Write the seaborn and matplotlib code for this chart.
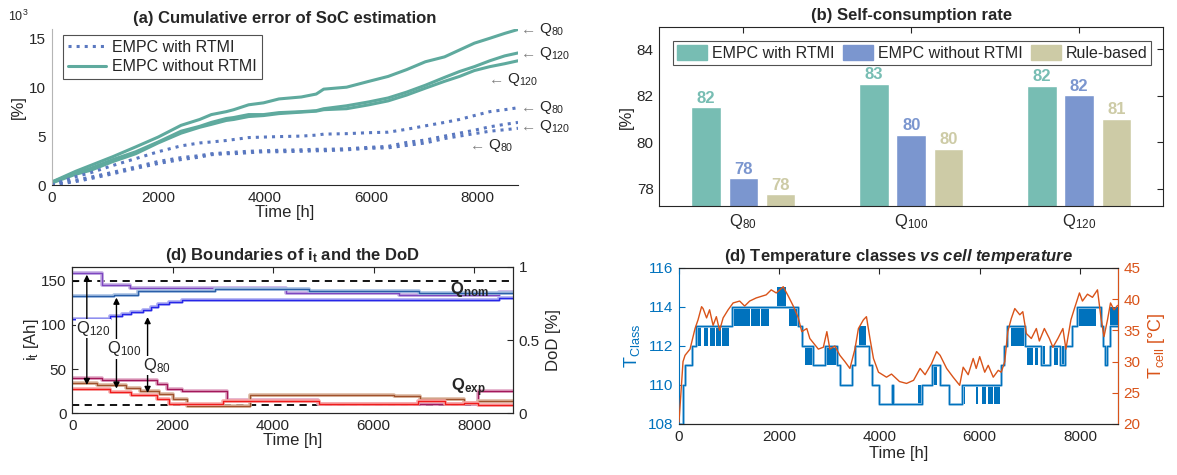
import numpy as np
import pandas as pd
import matplotlib.pyplot as plt
import seaborn as sns
from matplotlib.patches import Patch
from matplotlib.lines import Line2D

# ---------------- data ----------------
# (a) cumulative SoC error [x1000 %]
t_err = [0, 450, 730, 1150, 1580, 2000, 2430, 2780, 3000, 3280, 3420, 3700, 3980, 4270,
         4690, 4970, 5110, 5540, 5960, 6320, 6670, 7020, 7380, 7660, 7940, 8230, 8510, 8760]
wo_q80 = [0.3, 1.4, 2.0, 2.9, 3.9, 4.9, 6.1, 6.7, 7.2, 7.5, 7.7, 8.2, 8.4, 8.8,
          9.0, 9.3, 9.8, 10.0, 10.6, 11.1, 11.8, 12.6, 13.1, 13.8, 14.5, 15.0, 15.5, 15.9]
wo_q120a = [0.3, 1.2, 1.7, 2.6, 3.4, 4.4, 5.5, 6.0, 6.4, 6.8, 6.9, 7.2, 7.2, 7.4,
            7.5, 7.6, 7.8, 8.1, 8.5, 8.9, 9.5, 10.2, 11.0, 11.6, 12.1, 12.7, 13.2, 13.5]
wo_q120b = [0.2, 1.1, 1.5, 2.4, 3.2, 4.3, 5.3, 5.9, 6.2, 6.6, 6.7, 7.0, 7.1, 7.3,
            7.45, 7.55, 7.7, 7.8, 8.2, 8.6, 9.2, 9.9, 10.6, 11.1, 11.7, 12.1, 12.4, 12.7]
w_q80a = [0, 0.85, 1.25, 2.0, 2.7, 3.4, 4.0, 4.3, 4.4, 4.55, 4.65, 4.85, 4.9, 4.95,
          5.0, 5.1, 5.2, 5.25, 5.35, 5.4, 5.7, 6.05, 6.4, 6.7, 7.1, 7.5, 7.7, 7.9]
w_q120 = [0, 0.5, 0.8, 1.3, 1.85, 2.4, 2.8, 3.0, 3.2, 3.3, 3.35, 3.45, 3.5, 3.55,
          3.6, 3.65, 3.65, 3.7, 3.85, 3.95, 4.35, 4.6, 5.0, 5.3, 5.6, 5.95, 6.2, 6.4]
w_q80b = [0, 0.35, 0.65, 1.15, 1.7, 2.2, 2.6, 2.85, 3.1, 3.2, 3.2, 3.3, 3.4, 3.4,
          3.45, 3.5, 3.5, 3.6, 3.75, 3.8, 4.05, 4.3, 4.75, 5.0, 5.25, 5.5, 5.65, 5.8]

# (b) self-consumption rate [%]
cases = ["Q$_{80}$", "Q$_{100}$", "Q$_{120}$"]
strategies = ["EMPC with RTMI", "EMPC without RTMI", "Rule-based"]
scr_with = [81.5, 82.52, 82.44]
scr_without = [78.45, 80.32, 82.02]
scr_rule = [77.76, 79.72, 81.02]

# (d) boundaries of i_t [Ah]
purple_t = [0, 590, 1150, 4250, 6500, 8490, 8784]
purple_v = [159, 145, 141.5, 136.5, 134.5, 137, 137]
dblue_t = [0, 830, 1300, 2850, 4720, 6900, 8784]
dblue_v = [133, 134.5, 138, 140.5, 138.5, 136.5, 136.5]
blue_t = [0, 750, 1000, 1175, 1400, 1570, 1700, 1930, 2190, 8490, 8784]
blue_v = [106.5, 110, 112.5, 115, 117.5, 120.5, 124, 126.5, 128.5, 130.5, 130.5]
crim_t = [0, 590, 1690, 1890, 2190, 3090, 4900, 8090, 8784]
crim_v = [40.5, 37.5, 33, 28, 25, 15, 10.5, 25.5, 25.5]
brown_t = [0, 490, 1080, 1340, 1730, 2000, 2290, 3540, 6400, 6920, 7800, 8090, 8784]
brown_v = [34, 31.5, 28.5, 25, 21.5, 16, 8.5, 21, 19.6, 16, 12.2, 13.7, 13.7]
red_t = [0, 750, 1175, 1680, 1930, 3000, 4910, 6880, 7420, 7800, 8090, 8784]
red_v = [27, 24, 20.5, 16, 11, 14, 10.4, 14, 10.4, 11.8, 8.9, 8.9]
q_nom_line = 150
q_exp_line = 9

# (e) temperature classes and cell temperature
tclass_t = [0, 70, 120, 250, 330, 1050, 2380, 2450, 2510, 2680, 2910, 3150, 3210, 3450, 3520,
            3790, 3850, 3990, 4240, 4270, 4850, 5050, 5210, 5380, 5640, 6420, 6480, 6540, 6600,
            6900, 7230, 7400, 7600, 7700, 7850, 7950, 8420, 8470, 8490, 8540, 8600, 8760]
tclass_v = [108, 110, 111, 112, 113, 114, 113, 112, 112, 111, 112, 111, 110, 111, 112,
            111, 110, 109, 110, 109, 110, 111, 110, 109, 110, 111, 112, 113, 113,
            112, 111, 112, 111, 112, 113, 114, 113, 112, 111, 112, 113, 113]
# periods where the class toggles quickly between two levels
chat_t0 = [330, 500, 620, 740, 860, 1060, 1440, 1630, 1950, 2190, 2520, 2920, 3600, 4760,
           5060, 5640, 5920, 6050, 6170, 6290, 6620, 6940, 7110, 7230, 7490, 7640, 7960, 8600]
chat_t1 = [440, 570, 710, 830, 990, 1420, 1610, 1800, 2130, 2390, 2690, 3160, 3740, 4850,
           5140, 5710, 5970, 6130, 6270, 6410, 6890, 7060, 7170, 7310, 7570, 7710, 8320, 8760]
chat_lo = [112, 112, 112, 112, 112, 113, 113, 113, 114, 113, 111, 111, 112, 109,
           110, 109, 109, 109, 109, 109, 112, 111, 111, 111, 111, 111, 113, 113]

tcell_t = [0, 80, 120, 220, 320, 380, 450, 480, 550, 610, 680, 745, 810, 880, 980, 1080, 1210,
           1310, 1410, 1540, 1740, 1840, 1940, 2080, 2180, 2280, 2380, 2450, 2550, 2610, 2680,
           2780, 2880, 2950, 3010, 3110, 3210, 3310, 3410, 3510, 3580, 3680, 3740, 3810, 3880,
           3980, 4140, 4240, 4400, 4540, 4680, 4810, 4910, 5040, 5140, 5210, 5340, 5470, 5600,
           5670, 5770, 5870, 5930, 6000, 6100, 6170, 6270, 6370, 6430, 6500, 6560, 6630, 6700,
           6800, 6860, 6930, 7030, 7130, 7190, 7290, 7390, 7460, 7560, 7660, 7720, 7820, 7890,
           7990, 8050, 8150, 8250, 8350, 8420, 8480, 8550, 8610, 8680, 8750]
tcell_v = [20.3, 30, 31, 32, 35.3, 36.7, 38.8, 38.5, 37, 38.3, 35.8, 37.2, 35, 37, 38.3, 39.4, 39.7,
           38.9, 39.7, 40.2, 40.7, 41.5, 41, 42, 40.5, 38.9, 37, 34.8, 35.3, 33.7, 33,
           32, 32.3, 34.8, 32, 32.5, 31, 30, 28.9, 32, 35.3, 36.7, 37.2, 33.7, 30.5,
           28.3, 27.5, 28, 26.8, 26.5, 27, 28.9, 27.9, 29.7, 31.6, 31, 28.9, 27.5, 26.2,
           29.1, 27.9, 30.5, 28.9, 30.8, 28.3, 29.4, 27.5, 28.6, 28.3, 30, 34.8, 36.9, 38.5,
           37.5, 38, 34.5, 33.7, 35.3, 33.3, 35.3, 33.7, 32.3, 33.7, 35.3, 32, 36.7, 38.5,
           41, 39.7, 40.8, 40.3, 41.5, 37, 34, 36.7, 39.4, 38.3, 39]

# ---------------- style ----------------
sns.set_style("white")
plt.rcParams["font.family"] = ["Liberation Sans", "DejaVu Sans"]
plt.rcParams["mathtext.fontset"] = "custom"
plt.rcParams["mathtext.rm"] = "Liberation Sans"
plt.rcParams["mathtext.it"] = "Liberation Sans:italic"
plt.rcParams["mathtext.bf"] = "Liberation Sans:bold"
plt.rcParams["mathtext.bfit"] = "Liberation Sans:italic:bold"
plt.rcParams["xtick.direction"] = "in"
plt.rcParams["ytick.direction"] = "in"
plt.rcParams["font.size"] = 11
dark = "#262626"
teal = "#5FAA9E"
dotblue = "#5A78C0"
fs_tick = 11
fs_title = 12

fig = plt.figure(figsize=(11.77, 4.75), dpi=100)


def style_ticks(ax):
    ax.tick_params(labelsize=fs_tick, length=4, width=0.8, colors=dark, pad=4)


# ---------------- (a) ----------------
ax = fig.add_axes([0.0439, 0.6105, 0.3962, 0.3295])
for v in (wo_q80, wo_q120a, wo_q120b):
    sns.lineplot(x=t_err, y=v, ax=ax, color=teal, lw=2.2)
for v in (w_q80a, w_q120, w_q80b):
    sns.lineplot(x=t_err, y=v, ax=ax, color=dotblue, lw=2.2, linestyle=":")
ax.set_xlim(0, 8760)
ax.set_ylim(0, 16)
ax.set_xticks([0, 2000, 4000, 6000, 8000])
ax.set_yticks([0, 5, 10, 15])
sns.despine(ax=ax)
ax.spines["left"].set_color("#b5b5b5")
ax.spines["bottom"].set_color(dark)
style_ticks(ax)
ax.set_xlabel("Time [h]", fontsize=12, labelpad=0, color=dark)
ax.set_ylabel("[%]", fontsize=12, labelpad=2, color=dark)
ax.set_title("(a) Cumulative error of SoC estimation", fontsize=fs_title,
             fontweight="bold", pad=4)
fig.text(0.007, 0.955, "10$^3$", fontsize=9, color=dark)
for (xx, yy, lab) in [(8760, 15.9, "80"), (8760, 13.45, "120"), (8160, 10.8, "120"),
                      (8760, 7.9, "80"), (8760, 6.0, "120"), (7800, 4.0, "80")]:
    ax.annotate("\u2190", (xx, yy), xytext=(2, 0), textcoords="offset points",
                ha="left", va="center", color="gray", fontsize=11, annotation_clip=False)
    ax.annotate("Q$_{" + lab + "}$", (xx, yy), xytext=(15, 0), textcoords="offset points",
                ha="left", va="center", color=dark, fontsize=11, annotation_clip=False)
hand = [Line2D([], [], color=dotblue, lw=2.2, ls=":"), Line2D([], [], color=teal, lw=2.2)]
leg = ax.legend(hand, ["EMPC with RTMI", "EMPC without RTMI"], loc="upper left",
                bbox_to_anchor=(0.024, 0.96), borderaxespad=0, fancybox=False,
                fontsize=11.5, handlelength=2.4, handletextpad=0.4, borderpad=0.3,
                labelspacing=0.3)
leg.get_frame().set_edgecolor(dark)
leg.get_frame().set_linewidth(0.8)

# ---------------- (b) ----------------
ax = fig.add_axes([0.5602, 0.5663, 0.4280, 0.3762])
bar_df = pd.DataFrame({
    "case": cases * 3,
    "strategy": np.repeat(strategies, 3),
    "scr": scr_with + scr_without + scr_rule,
})
bar_cols = ["#77BDB3", "#7B96CF", "#CDCBA6"]
sns.barplot(data=bar_df, x="case", y="scr", hue="strategy", palette=bar_cols,
            width=0.667, gap=0.21, ax=ax, legend=False, saturation=1)
for cont, col in zip(ax.containers, bar_cols):
    ax.bar_label(cont, labels=[f"{b.get_height():.0f}" for b in cont], color=col,
                 fontweight="bold", fontsize=12, padding=1)
ax.set_xlim(-0.5, 2.5)
ax.set_ylim(77.25, 84.95)
ax.set_yticks([78, 80, 82, 84])
ax.tick_params(top=True, right=True)
style_ticks(ax)
ax.tick_params(axis="x", labelsize=12)
for s in ax.spines.values():
    s.set_color(dark)
    s.set_linewidth(0.8)
ax.set_xlabel("")
ax.set_ylabel("[%]", fontsize=12, labelpad=2, color=dark)
ax.set_title("(b) Self-consumption rate", fontsize=fs_title, fontweight="bold", pad=5)
leg = ax.legend([Patch(color=c) for c in bar_cols], strategies, loc="upper center",
                bbox_to_anchor=(0.502, 0.925), borderaxespad=0, ncol=3, fancybox=False,
                fontsize=11.5, handlelength=1.9, handleheight=1.1, handletextpad=0.3,
                columnspacing=0.5, borderpad=0.25)
leg.get_frame().set_edgecolor(dark)
leg.get_frame().set_linewidth(0.8)

# ---------------- (d) ----------------
ax = fig.add_axes([0.0614, 0.1299, 0.3747, 0.3086])
ax.axhline(q_nom_line, color="k", ls="--", lw=1.3, dashes=(4, 3))
ax.axhline(q_exp_line, color="k", ls="--", lw=1.3, dashes=(4, 3))
for (tt, vv, c, pale) in [(purple_t, purple_v, "#7E46C0", "#C4AEE4"),
                          (dblue_t, dblue_v, "#2A5FA8", "#A9C2E4"),
                          (blue_t, blue_v, "#2626E8", "#A9A9F2"),
                          (crim_t, crim_v, "#A3185A", "#E2A9C6"),
                          (brown_t, brown_v, "#A0522D", "#DDB9A3"),
                          (red_t, red_v, "#F01C1C", "#F8A9A9")]:
    sns.lineplot(x=tt, y=vv, ax=ax, color=pale, lw=2.6, drawstyle="steps-post")
    sns.lineplot(x=tt, y=vv, ax=ax, color=c, lw=1.0, drawstyle="steps-post")
ax.set_xlim(0, 8784)
ax.set_ylim(0, 166)
ax.set_xticks([0, 2000, 4000, 6000, 8000])
ax.set_yticks([0, 50, 100, 150])
ax.tick_params(top=True)
style_ticks(ax)
for s in ax.spines.values():
    s.set_color(dark)
    s.set_linewidth(0.8)
arrow_kw = dict(arrowstyle="<|-|>", color="k", lw=1.0, mutation_scale=9, shrinkA=0, shrinkB=0)
for (xx, y0, y1) in [(290, 157, 32), (880, 131, 28), (1500, 109, 23)]:
    ax.annotate("", xy=(xx, y1), xytext=(xx, y0), arrowprops=arrow_kw)
for (xx, yy, lab) in [(80, 96, "120"), (690, 73, "100"), (1400, 54, "80")]:
    ax.text(xx, yy, "Q$_{" + lab + "}$", fontsize=12, ha="left", va="center", color=dark,
            bbox=dict(facecolor="white", edgecolor="none", pad=0.2))
ax.text(7520, 140, r"$\mathbf{Q_{nom}}$", fontsize=12, ha="left", va="center")
ax.text(7540, 29, r"$\mathbf{Q_{exp}}$", fontsize=12, ha="left", va="center")
ax.set_xlabel("Time [h]", fontsize=12, labelpad=0, color=dark)
ax.set_ylabel(r"i$_\mathrm{t}$ [Ah]", fontsize=12, labelpad=0, color=dark)
ax.set_title(r"(d) Boundaries of $\mathbf{i_t}$ and the DoD", fontsize=fs_title,
             fontweight="bold", pad=5)
ax2 = ax.twinx()
ax2.set_ylim(0, 1)
ax2.set_yticks([0, 0.5, 1])
ax2.set_yticklabels(["0", "0.5", "1"])
style_ticks(ax2)
ax2.set_ylabel("DoD [%]", fontsize=12, labelpad=4, color=dark)

# ---------------- (e) ----------------
cblue = "#0072BD"
corange = "#D95319"
ax = fig.add_axes([0.5769, 0.1074, 0.3730, 0.3284])
for t0, t1, lo in zip(chat_t0, chat_t1, chat_lo):
    ax.fill_between([t0, t1], lo, lo + 1, color=cblue, lw=0)
sns.lineplot(x=tclass_t, y=tclass_v, ax=ax, color="#A9CFEA", lw=2.0, drawstyle="steps-post")
sns.lineplot(x=tclass_t, y=tclass_v, ax=ax, color=cblue, lw=1.0, drawstyle="steps-post")
ax.set_xlim(0, 8760)
ax.set_ylim(108, 116)
ax.set_xticks([0, 2000, 4000, 6000, 8000])
ax.set_yticks([108, 110, 112, 114, 116])
ax.tick_params(top=True)
style_ticks(ax)
ax.tick_params(axis="y", colors=cblue)
for s in ax.spines.values():
    s.set_color(dark)
    s.set_linewidth(0.8)
ax.spines["left"].set_color(cblue)
ax.set_xlabel("Time [h]", fontsize=12, labelpad=2, color=dark)
ax.set_ylabel(r"T$_\mathrm{Class}$", fontsize=13, labelpad=4, color=cblue)
ax.set_title(r"(d) Temperature classes $\mathbfit{vs\ cell\ temperature}$",
             fontsize=fs_title, fontweight="bold", pad=5)
ax2 = ax.twinx()
sns.lineplot(x=tcell_t, y=tcell_v, ax=ax2, color=corange, lw=1.0)
ax2.set_ylim(20, 45)
ax2.set_yticks([20, 25, 30, 35, 40, 45])
style_ticks(ax2)
ax2.tick_params(axis="y", colors=corange)
ax2.spines["right"].set_color(corange)
ax2.spines["left"].set_visible(False)
ax2.set_ylabel(r"T$_\mathrm{cell}$ [°C]", fontsize=13, labelpad=4, color=corange)

fig.savefig("out.png", dpi=100)
